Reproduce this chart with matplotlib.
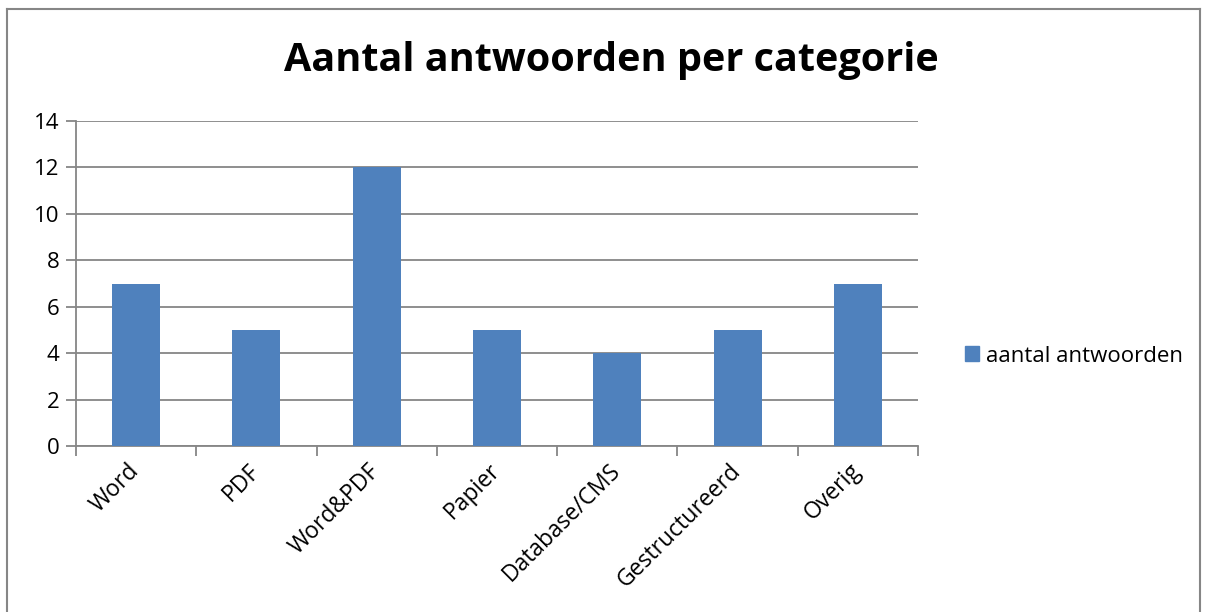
import matplotlib
matplotlib.use("Agg")
from matplotlib import pyplot as plt
from matplotlib.patches import Rectangle
from matplotlib.lines import Line2D
import matplotlib.transforms as mtransforms
import numpy as np

categories = ["Word", "PDF", "Word&PDF", "Papier", "Database/CMS", "Gestructureerd", "Overig"]
values = [7, 5, 12, 5, 4, 5, 7]
series_name = "aantal antwoorden"
title = "Aantal antwoorden per categorie"

plt.rcParams['font.family'] = ['Open Sans', 'DejaVu Sans']

bar_color = "#4F81BD"
grid_color = "#868686"

fig = plt.figure(figsize=(12.13, 6.12), dpi=100)
ax = fig.add_axes([76 / 1213, 1 - 446 / 612, (918 - 76) / 1213, (446 - 121) / 612])

x = np.arange(len(categories))
ax.bar(x, values, width=0.4, color=bar_color, label=series_name, zorder=3)

ax.set_xlim(-0.5, len(categories) - 0.5)
ax.set_ylim(0, 14)
ax.set_yticks(range(0, 15, 2))
ax.yaxis.grid(True, color=grid_color, linewidth=1.3, zorder=0)

# category tick marks sit between the bars, like Excel
ax.set_xticks(np.arange(-0.5, len(categories)))
ax.set_xticklabels([])
ax.tick_params(axis="x", length=7, width=1.3, color=grid_color)
ax.tick_params(axis="y", length=7, width=1.3, color=grid_color, labelsize=16, pad=5)

# category labels, rotated, ending just under each bar centre
label_trans = ax.get_xaxis_transform() + mtransforms.ScaledTranslation(
    -0.09, -0.13, fig.dpi_scale_trans)
for xi, cat in zip(x, categories):
    ax.text(xi, 0, cat, transform=label_trans, rotation=45, ha="right", va="top",
            rotation_mode="anchor", fontsize=16.5)

for side in ["top", "right"]:
    ax.spines[side].set_visible(False)
for side in ["left", "bottom"]:
    ax.spines[side].set_color(grid_color)
    ax.spines[side].set_linewidth(1.3)

fig.text(611 / 1213, 1 - 60 / 612, title, ha="center", va="center",
         fontsize=28.5, fontweight="bold")

# legend
fig.legend(handles=[Rectangle((0, 0), 1, 1, color=bar_color)], labels=[series_name],
           loc="center left", bbox_to_anchor=(945 / 1213, 1 - 356 / 612),
           frameon=False, fontsize=16, handlelength=0.65, handleheight=0.65,
           handletextpad=0.3)

# chart border
for coords in [((7, 7), (9, 612)), ((7, 1200), (9, 9)), ((1200, 1200), (9, 612))]:
    fig.add_artist(Line2D([c / 1213 for c in coords[0]],
                          [1 - c / 612 for c in coords[1]],
                          color=grid_color, linewidth=1.5))

fig.savefig("out.png", dpi=100)
